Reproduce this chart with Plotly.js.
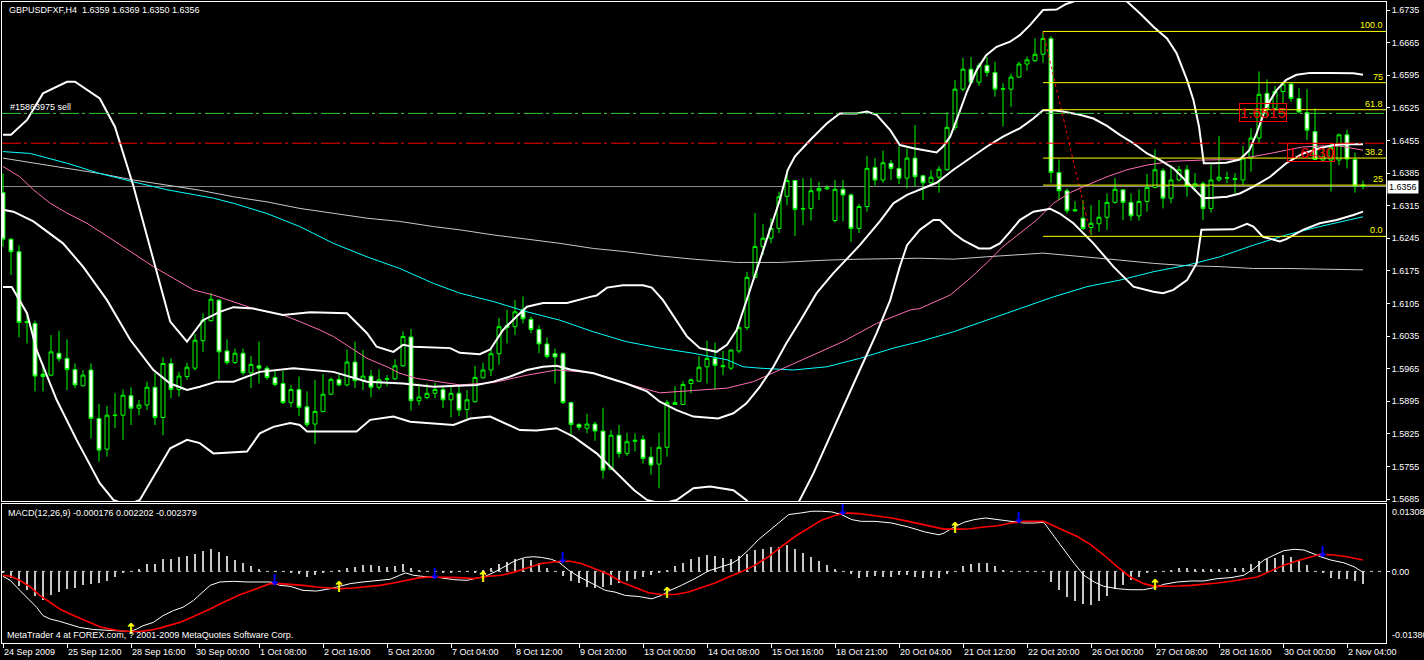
<!DOCTYPE html>
<html><head><meta charset="utf-8">
<script src="https://cdn.plot.ly/plotly-3.0.1.min.js"></script>
<style>html,body{margin:0;padding:0;background:#000;overflow:hidden}#chart{width:1424px;height:660px}</style>
</head><body><div id="chart"></div>
<script>
const symbol = 'GBPUSDFXF,H4';
const macdName = 'MACD(12,26,9)';
const copyright = 'MetaTrader 4 at FOREX.com, ? 2001-2009 MetaQuotes Software Corp.';

// H4 candles, one per bar (bar 0 = 24 Sep 2009)
const open = [1.6343,1.6243,1.6216,1.6064,1.6062,1.5953,1.5951,1.5998,1.5987,1.5963,
1.5928,1.5962,1.5858,1.5792,1.5864,1.5865,1.5907,1.5880,1.5887,1.5925,
1.5860,1.5976,1.5920,1.5948,1.5966,1.6025,1.6068,1.6112,1.6003,1.5978,
1.5998,1.5956,1.5971,1.5966,1.5946,1.5933,1.5892,1.5920,1.5883,1.5846,
1.5873,1.5910,1.5942,1.5930,1.5979,1.5939,1.5949,1.5925,1.5942,1.5943,
1.5971,1.6033,1.5896,1.5903,1.5912,1.5920,1.5898,1.5912,1.5877,1.5894,
1.5945,1.5962,1.5997,1.6057,1.6055,1.6091,1.6071,1.6049,1.6018,1.5997,
1.5997,1.5892,1.5845,1.5837,1.5846,1.5831,1.5749,1.5822,1.5783,1.5809,
1.5813,1.5775,1.5760,1.5796,1.5888,1.5888,1.5933,1.5938,1.5969,1.5987,
1.5969,1.5966,1.6003,1.6053,1.6161,1.6227,1.6245,1.6266,1.6335,1.6369,
1.6309,1.6309,1.6347,1.6351,1.6283,1.6350,1.6338,1.6266,1.6313,1.6397,
1.6370,1.6406,1.6395,1.6374,1.6417,1.6379,1.6364,1.6376,1.6392,1.6483,
1.6565,1.6608,1.6580,1.6616,1.6601,1.6565,1.6565,1.6591,1.6619,1.6626,
1.6640,1.6674,1.6386,1.6347,1.6306,1.6288,1.6268,1.6276,1.6290,1.6322,
1.6349,1.6322,1.6293,1.6324,1.6354,1.6390,1.6331,1.6370,1.6392,1.6356,
1.6362,1.6309,1.6370,1.6374,1.6371,1.6370,1.6417,1.6460,1.6556,1.6524,
1.6560,1.6576,1.6545,1.6515,1.6474,1.6413,1.6413,1.6413,1.6467,1.6414,
1.6359];
const high = [1.6384,1.6245,1.6230,1.6084,1.6068,1.5976,1.6037,1.6046,1.6028,1.5976,
1.5962,1.5976,1.5889,1.5885,1.5912,1.5920,1.5925,1.5898,1.5937,1.5955,
1.5989,1.5987,1.5958,1.5978,1.6039,1.6084,1.6127,1.6114,1.6028,1.6008,
1.6008,1.5992,1.6023,1.5971,1.5962,1.5960,1.5930,1.5948,1.5916,1.5941,
1.5953,1.5946,1.5953,1.6006,1.6023,1.6005,1.5962,1.5963,1.5951,1.5985,
1.6045,1.6050,1.5933,1.5933,1.5935,1.5927,1.5928,1.5930,1.5919,1.5971,
1.5978,1.6008,1.6074,1.6091,1.6112,1.6120,1.6077,1.6058,1.6032,1.6008,
1.6000,1.5894,1.5848,1.5868,1.5851,1.5881,1.5833,1.5844,1.5827,1.5826,
1.5822,1.5797,1.5827,1.5898,1.5927,1.5938,1.5944,1.5992,1.6025,1.6021,
1.6003,1.6005,1.6058,1.6173,1.6299,1.6275,1.6288,1.6345,1.6391,1.6370,
1.6374,1.6374,1.6366,1.6359,1.6370,1.6370,1.6341,1.6319,1.6422,1.6417,
1.6433,1.6413,1.6442,1.6438,1.6488,1.6381,1.6391,1.6400,1.6515,1.6585,
1.6632,1.6634,1.6622,1.6634,1.6624,1.6578,1.6598,1.6624,1.6635,1.6674,
1.6689,1.6679,1.6414,1.6352,1.6324,1.6327,1.6316,1.6327,1.6341,1.6374,
1.6350,1.6341,1.6350,1.6383,1.6436,1.6395,1.6402,1.6400,1.6402,1.6385,
1.6367,1.6402,1.6465,1.6388,1.6385,1.6443,1.6481,1.6603,1.6586,1.6572,
1.6579,1.6578,1.6567,1.6565,1.6524,1.6442,1.6449,1.6470,1.6478,1.6429,
1.6369];
const low = [1.6227,1.6166,1.6032,1.6019,1.5916,1.5916,1.5949,1.5980,1.5919,1.5923,
1.5927,1.5815,1.5765,1.5776,1.5837,1.5812,1.5844,1.5865,1.5876,1.5844,
1.5822,1.5901,1.5905,1.5941,1.5961,1.6001,1.6066,1.5942,1.5973,1.5975,
1.5951,1.5923,1.5933,1.5941,1.5927,1.5889,1.5882,1.5863,1.5840,1.5803,
1.5871,1.5908,1.5927,1.5927,1.5923,1.5919,1.5903,1.5920,1.5927,1.5941,
1.5969,1.5875,1.5886,1.5899,1.5901,1.5880,1.5860,1.5863,1.5858,1.5892,
1.5944,1.5949,1.5973,1.6019,1.6037,1.6062,1.6041,1.5998,1.5987,1.5933,
1.5889,1.5822,1.5833,1.5826,1.5810,1.5729,1.5747,1.5774,1.5777,1.5787,
1.5761,1.5737,1.5708,1.5776,1.5887,1.5887,1.5912,1.5937,1.5933,1.5920,
1.5951,1.5962,1.5998,1.6048,1.6159,1.6209,1.6234,1.6256,1.6316,1.6250,
1.6273,1.6283,1.6327,1.6349,1.6279,1.6281,1.6237,1.6256,1.6302,1.6358,
1.6364,1.6370,1.6361,1.6352,1.6357,1.6327,1.6356,1.6343,1.6390,1.6477,
1.6560,1.6578,1.6572,1.6592,1.6549,1.6485,1.6527,1.6589,1.6605,1.6624,
1.6622,1.6364,1.6327,1.6298,1.6302,1.6263,1.6252,1.6259,1.6263,1.6319,
1.6284,1.6283,1.6283,1.6302,1.6352,1.6309,1.6320,1.6367,1.6334,1.6345,
1.6284,1.6300,1.6367,1.6363,1.6341,1.6359,1.6388,1.6449,1.6506,1.6520,
1.6535,1.6538,1.6513,1.6456,1.6413,1.6409,1.6345,1.6402,1.6395,1.6343,
1.6350];
const close = [1.6243,1.6216,1.6064,1.6066,1.5949,1.5948,1.6001,1.5986,1.5963,1.5930,
1.5951,1.5858,1.5790,1.5865,1.5865,1.5908,1.5880,1.5887,1.5925,1.5860,
1.5976,1.5920,1.5949,1.5968,1.6026,1.6069,1.6114,1.6001,1.5978,1.5998,
1.5956,1.5974,1.5966,1.5946,1.5931,1.5892,1.5920,1.5882,1.5845,1.5873,
1.5910,1.5942,1.5930,1.5979,1.5939,1.5949,1.5925,1.5941,1.5943,1.5971,
1.6034,1.5896,1.5904,1.5912,1.5920,1.5898,1.5912,1.5876,1.5898,1.5946,
1.5962,1.5997,1.6055,1.6054,1.6087,1.6072,1.6049,1.6018,1.5991,1.5990,
1.5892,1.5845,1.5839,1.5846,1.5831,1.5747,1.5822,1.5783,1.5808,1.5811,
1.5772,1.5758,1.5796,1.5892,1.5892,1.5931,1.5941,1.5968,1.5987,1.5972,
1.5971,1.6005,1.6053,1.6161,1.6227,1.6245,1.6266,1.6334,1.6369,1.6307,
1.6308,1.6347,1.6352,1.6353,1.6350,1.6338,1.6266,1.6313,1.6395,1.6370,
1.6407,1.6395,1.6374,1.6417,1.6377,1.6364,1.6376,1.6393,1.6483,1.6565,
1.6608,1.6580,1.6616,1.6601,1.6565,1.6566,1.6591,1.6619,1.6628,1.6640,
1.6674,1.6386,1.6347,1.6304,1.6304,1.6266,1.6277,1.6290,1.6322,1.6350,
1.6322,1.6293,1.6324,1.6354,1.6392,1.6331,1.6370,1.6392,1.6356,1.6362,
1.6309,1.6370,1.6376,1.6375,1.6373,1.6417,1.6460,1.6554,1.6524,1.6560,
1.6576,1.6545,1.6516,1.6477,1.6414,1.6420,1.6440,1.6467,1.6415,1.6357,
1.6356];

// time axis labels
const tickBars = [0,8,16,24,32,40,48,56,64,72,80,88,96,104,112,120,128,136,144,152,160,168];
const timeLabels = ['24 Sep 2009','25 Sep 12:00','28 Sep 16:00','30 Sep 00:00','1 Oct 08:00','2 Oct 16:00','5 Oct 20:00','7 Oct 04:00','8 Oct 12:00','9 Oct 20:00','13 Oct 00:00','14 Oct 08:00','15 Oct 16:00','18 Oct 21:00','20 Oct 04:00','21 Oct 12:00','22 Oct 20:00','26 Oct 00:00','27 Oct 08:00','28 Oct 16:00','30 Oct 00:00','2 Nov 04:00'];
const priceTicks = [1.6735,1.6665,1.6595,1.6525,1.6455,1.6385,1.6315,1.6245,1.6175,1.6105,1.6035,1.5965,1.5895,1.5825,1.5755,1.5685];

// Bollinger bands (read at sampled bars)
const bbUpperX = [0,1,3,5,8,9,12.1,14,16.3,18.8,20.9,23,25,27.1,28.8,31.3,35,38.4,43,45.5,46.7,48.8,50,51.3,55.9,57.1,59.6,60.9,62.5,64.2,65.5,67.5,70.5,73.4,74.2,75.5,77.5,80,81.1,82.5,83.8,85.5,87.1,89.2,90.5,91.7,92.9,93.8,95.5,97.1,98.1,99,100.9,103,104.6,106.7,108,109.2,110.9,112.1,113.8,115,116.7,117.5,118.4,119.2,120.5,121.7,122.9,124.2,125.9,127.1,128.4,130,131.7,132.9,133.8,135.5,137.5,139.5,140.5,142.1,143.8,145.5,146.7,148,148.8,149.5,149.9,150.1,151.3,152.9,154.6,155.8,156.7,157.9,159.2,160.4,161.7,163.4,165.9,168.8,170];
const bbUpperY = [1.6467,1.6467,1.6499,1.6556,1.6581,1.6581,1.6545,1.6484,1.6357,1.6198,1.6066,1.6023,1.6069,1.6087,1.6097,1.6094,1.6080,1.6086,1.6084,1.6041,1.6012,1.6001,1.6016,1.6012,1.6009,1.5999,1.5996,1.6006,1.6048,1.6077,1.6098,1.6106,1.6106,1.6119,1.6122,1.6139,1.6144,1.6144,1.6139,1.6112,1.6077,1.6034,1.6009,1.6001,1.6016,1.6048,1.6109,1.6155,1.6241,1.6327,1.6392,1.6421,1.6456,1.6492,1.6513,1.6513,1.6517,1.6510,1.6477,1.6445,1.6438,1.6434,1.6429,1.6442,1.6463,1.6499,1.6560,1.6606,1.6638,1.6656,1.6667,1.6681,1.6703,1.6735,1.6736,1.6748,1.6753,1.6775,1.6780,1.6765,1.6753,1.6728,1.6699,1.6674,1.6642,1.6585,1.6542,1.6485,1.6427,1.6406,1.6406,1.6407,1.6414,1.6434,1.6470,1.6527,1.6563,1.6585,1.6596,1.6600,1.6600,1.6599,1.6596];
const bbMidX = [0,1.3,3.8,7.5,10,13,15.9,18.8,20.9,23,24.6,26.7,28.8,32.1,36.3,41.3,45.5,50,53.8,57.1,59.2,61.3,63.4,65.5,67.5,69.2,70.9,73.8,75.9,77.9,80.5,82.1,84.2,86.3,89.4,91.3,92.9,94.6,96.3,97.9,99.6,101.7,103.8,105.5,107.1,109.6,111.3,113,114.6,116.7,118.8,120.9,123,125,127.1,128.8,130,131.3,132.5,134.6,136.3,138,139.6,141.3,143,144.6,146.3,148,149.2,150,151.3,153,154.6,156.3,158.4,160.4,162.5,164.6,166.3,168,170];
const bbMidY = [1.6306,1.6302,1.6281,1.6234,1.6184,1.6112,1.6027,1.5962,1.5933,1.5919,1.5926,1.5937,1.5937,1.5958,1.5966,1.5958,1.5937,1.5933,1.5926,1.5928,1.5930,1.5937,1.5948,1.5962,1.5969,1.5971,1.5963,1.5955,1.5944,1.5933,1.5916,1.5894,1.5876,1.5862,1.5858,1.5869,1.5890,1.5926,1.5969,1.6019,1.6066,1.6127,1.6170,1.6202,1.6230,1.6281,1.6320,1.6338,1.6349,1.6364,1.6392,1.6417,1.6442,1.6463,1.6481,1.6502,1.6520,1.6520,1.6517,1.6510,1.6502,1.6486,1.6467,1.6449,1.6427,1.6413,1.6395,1.6366,1.6345,1.6331,1.6332,1.6334,1.6341,1.6356,1.6377,1.6406,1.6427,1.6438,1.6445,1.6447,1.6447];
const bbLowX = [0,1.1,3,4.2,6.7,9.2,12.1,13.8,15.5,17.1,20.9,23,24.6,26.3,30.5,32.1,33.8,35.9,37.1,38,39.6,44.2,45.9,48.8,50.9,53.8,56.3,58.4,60.9,64.6,66.7,69.2,71.3,74.2,76.7,78.9,80.5,82.3,84.2,86.3,88.4,91.3,92.9,94.5,96.5,98.5,99.6,101.3,103,105,107.1,109.2,110.9,112.1,113,114.6,116.3,117.1,118.8,120,122,123.4,124.6,125.9,127.1,128.8,130.9,132.1,133.8,136.3,138.8,141.3,143.8,145,146.3,148,149.2,149.8,151.3,153.8,155.5,156.3,157.5,159.6,160.4,162.5,164.6,166.7,168.8,170];
const bbLowY = [1.6140,1.6140,1.6084,1.6005,1.5898,1.5812,1.5719,1.5683,1.5672,1.5683,1.5794,1.5812,1.5805,1.5783,1.5787,1.5826,1.5840,1.5848,1.5844,1.5830,1.5830,1.5830,1.5855,1.5862,1.5851,1.5848,1.5844,1.5858,1.5862,1.5833,1.5832,1.5837,1.5819,1.5783,1.5740,1.5704,1.5683,1.5675,1.5683,1.5708,1.5712,1.5704,1.5683,1.5650,1.5635,1.5655,1.5683,1.5740,1.5805,1.5883,1.5962,1.6041,1.6112,1.6184,1.6230,1.6263,1.6284,1.6284,1.6256,1.6241,1.6223,1.6223,1.6234,1.6259,1.6284,1.6302,1.6308,1.6298,1.6277,1.6234,1.6184,1.6141,1.6130,1.6127,1.6134,1.6155,1.6191,1.6263,1.6263,1.6264,1.6276,1.6270,1.6248,1.6238,1.6243,1.6263,1.6277,1.6284,1.6295,1.6302];

// moving averages (sampled)
const cyanX = [0,3.4,8,12.1,16.3,20.5,26.3,28.8,33,37.1,41.3,45.5,49.6,53.8,57.1,61.3,65.5,69.6,73.8,77.9,82.1,86.3,90.5,92.5,94.6,98.8,103,107.1,111.3,114.6,118.8,122.9,127.1,131.3,135.5,139.6,143.8,148,152.1,156.3,160.4,164.6,170];
const cyanY = [1.6431,1.6427,1.6406,1.6384,1.6366,1.6349,1.6331,1.6320,1.6298,1.6270,1.6234,1.6205,1.6180,1.6148,1.6127,1.6109,1.6087,1.6069,1.6044,1.6023,1.6009,1.5998,1.5984,1.5969,1.5966,1.5962,1.5969,1.5987,1.6009,1.6023,1.6044,1.6069,1.6094,1.6119,1.6141,1.6155,1.6173,1.6187,1.6205,1.6230,1.6252,1.6270,1.6291];
const pinkX = [0,2.1,3.8,5.9,8,10.5,13.4,16.3,18.8,21.3,23.8,26.3,28.8,31.3,33,35,37.1,39.6,41.3,43.8,45.5,48,49.6,51.7,53.8,57.1,61.3,65.5,69.2,73.8,77.9,82.1,86.3,90.5,93.8,97.1,100.9,105,109.2,113.4,114.6,118.4,120.9,122.9,125,127.1,129.2,131.3,133.4,135.5,138,140.5,143,146,150.1,154.2,156.3,158.4,160.4,162.5,164.6,167.1,170];
const pinkY = [1.6399,1.6377,1.6349,1.6320,1.6299,1.6277,1.6245,1.6213,1.6184,1.6159,1.6134,1.6123,1.6109,1.6094,1.6087,1.6080,1.6066,1.6048,1.6034,1.6005,1.5987,1.5969,1.5955,1.5944,1.5939,1.5930,1.5935,1.5951,1.5962,1.5956,1.5933,1.5913,1.5918,1.5923,1.5937,1.5962,1.5991,1.6023,1.6062,1.6091,1.6094,1.6123,1.6159,1.6191,1.6227,1.6256,1.6284,1.6320,1.6343,1.6359,1.6377,1.6392,1.6402,1.6410,1.6413,1.6414,1.6420,1.6427,1.6434,1.6441,1.6443,1.6443,1.6434];
const greyX = [0,3.8,8,12.1,16.3,20.5,24.6,28.8,33,37.1,41.3,45.5,49.6,53.8,57.1,61.3,65.5,69.6,73.8,77.9,82.1,86.3,91.7,97.1,103,107.1,114.6,118.8,122.9,127.1,130,131.3,135.5,139.6,143.8,148,152.1,156.3,160.4,164.6,170];
const greyY = [1.6417,1.6406,1.6395,1.6384,1.6370,1.6359,1.6348,1.6334,1.6323,1.6309,1.6298,1.6288,1.6281,1.6270,1.6263,1.6252,1.6243,1.6234,1.6223,1.6216,1.6207,1.6200,1.6193,1.6193,1.6198,1.6200,1.6202,1.6200,1.6205,1.6209,1.6213,1.6211,1.6205,1.6198,1.6191,1.6186,1.6184,1.6180,1.6180,1.6179,1.6177];

// trade / objects
const orderPrices = [1.6513, 1.6449];
const orderLabel = '#15863975 sell';
const fibStartBar = 130, fibEndBar = 136;
const fibHigh = 1.6689, fibLow = 1.6249;
const fibLevels = [0, 0.25, 0.382, 0.618, 0.75, 1.0];
const fibLabels = ['0.0','25','38.2','61.8','75','100.0'];
const tagBars = [157.5, 163.5];
const tagPrices = [1.6514, 1.6430];
const tagTexts = ['1.6515', '1.6430'];

// MACD panel
const macdX = [0,0.9,2.1,3.4,4.2,5,5.9,7.1,8.4,9.6,11.3,13,14.6,15.9,16.7,17.5,18.8,20,21.3,22.5,23.8,24.6,25.9,27.1,28.8,30.5,32.1,33.4,34.6,35.9,37.5,39.2,40.9,42.1,43.4,45,46.7,48.4,49.6,50.3,51.3,53,54.6,56.3,58,59,60.3,61.5,62.8,64,65.3,66.3,67.3,68.6,69.6,70.7,71.9,73.2,74.4,75.3,76.5,77.8,79.4,80.3,81.1,82.3,83.2,84.8,86.5,88.2,89.8,91.1,91.9,93.2,94.4,95.7,96.9,98.2,99.8,101.1,102.3,103.6,104.8,106.1,107.3,109,111.1,113.2,115.3,117,117.6,118.9,120.1,121.4,122.8,124.3,126,127.6,128.9,130.1,131.4,132.6,133.9,135.1,136.4,137.6,139.3,140.9,142.6,143.9,145.1,146.8,148.5,150.1,151.8,153.5,155.1,156.4,157.6,158.9,160.1,161.4,162.6,163.9,164.7,166,167.6,168.9,170];
const macdY = [-0.00094,-0.00172,-0.00366,-0.00561,-0.00691,-0.00853,-0.00918,-0.00964,-0.01029,-0.01081,-0.01120,-0.01133,-0.01146,-0.01159,-0.01113,-0.01048,-0.00983,-0.00853,-0.00756,-0.00691,-0.00561,-0.00444,-0.00269,-0.00204,-0.00191,-0.00204,-0.00204,-0.00204,-0.00269,-0.00288,-0.00366,-0.00379,-0.00334,-0.00282,-0.00236,-0.00204,-0.00172,-0.00152,-0.00074,-0.00029,-0.00074,-0.00107,-0.00120,-0.00159,-0.00172,-0.00139,-0.00094,-0.00009,0.00101,0.00205,0.00270,0.00283,0.00270,0.00231,0.00166,0.00023,-0.00094,-0.00204,-0.00301,-0.00366,-0.00399,-0.00464,-0.00483,-0.00509,-0.00529,-0.00464,-0.00379,-0.00269,-0.00139,0.00010,0.00088,0.00153,0.00231,0.00413,0.00608,0.00771,0.00933,0.01095,0.01128,0.01160,0.01160,0.01147,0.01095,0.00998,0.00965,0.00965,0.00933,0.00855,0.00758,0.00706,0.00738,0.00855,0.00946,0.00998,0.01030,0.00998,0.00965,0.00933,0.00933,0.00946,0.00673,0.00413,0.00153,-0.00074,-0.00204,-0.00288,-0.00334,-0.00353,-0.00353,-0.00314,-0.00249,-0.00204,-0.00185,-0.00185,-0.00139,-0.00120,-0.00074,0.00056,0.00218,0.00316,0.00400,0.00426,0.00413,0.00335,0.00283,0.00218,0.00166,0.00088,-0.000176];
const signalX = [0,0.9,2.1,3.4,4.6,5.9,7.1,8.4,9.6,10.9,12.1,13.4,14.6,15.9,17.1,18.4,19.6,20.9,22.1,23.4,24.6,25.9,27.1,28.4,29.6,30.9,32.1,33.4,34.6,35.9,37.5,39.2,40.9,42.1,43.8,45.5,47.1,48.8,50.5,52.1,53.8,55.5,57.1,58.8,60.7,62.3,64,65.7,67.3,69,70.7,72.3,74,75.7,77.3,79,80.7,82.3,84,85.7,87.3,89,90.7,92.3,94,95.7,97.3,99,100.7,102.3,104,105.3,106.9,109,111.1,113.2,115.3,117.6,119.3,120.9,122.6,124.3,126,127.6,130.1,131.4,132.6,134.3,136,137.6,139.3,140.9,142.6,143.9,145.1,146.8,148.5,150.1,151.8,153.5,155.1,156.8,158.5,160.1,161.8,163.5,164.7,166.4,168,170];
const signalY = [-0.00074,-0.00094,-0.00172,-0.00301,-0.00464,-0.00594,-0.00724,-0.00821,-0.00899,-0.00984,-0.01068,-0.01113,-0.01146,-0.01159,-0.01159,-0.01133,-0.01094,-0.01036,-0.00984,-0.00899,-0.00821,-0.00724,-0.00627,-0.00529,-0.00451,-0.00379,-0.00314,-0.00236,-0.00236,-0.00249,-0.00269,-0.00301,-0.00314,-0.00334,-0.00321,-0.00301,-0.00269,-0.00223,-0.00172,-0.00120,-0.00107,-0.00107,-0.00120,-0.00139,-0.00094,-0.00074,-0.00009,0.00075,0.00153,0.00186,0.00199,0.00153,0.00056,-0.00055,-0.00204,-0.00314,-0.00412,-0.00444,-0.00444,-0.00399,-0.00314,-0.00223,-0.00107,-0.00009,0.00121,0.00283,0.00478,0.00673,0.00835,0.00985,0.01076,0.01128,0.01115,0.01076,0.01030,0.00965,0.00900,0.00816,0.00816,0.00823,0.00855,0.00881,0.00933,0.00965,0.00965,0.00881,0.00790,0.00673,0.00511,0.00316,0.00088,-0.00107,-0.00236,-0.00288,-0.00288,-0.00282,-0.00269,-0.00249,-0.00223,-0.00191,-0.00152,-0.00107,0.00010,0.00121,0.00205,0.00270,0.00329,0.00316,0.00283,0.002202];
const histY = [-0.00026,-0.00124,-0.00273,-0.00364,-0.00468,-0.00546,-0.00449,-0.00397,-0.00338,-0.00319,
-0.00254,-0.00234,-0.00221,-0.00176,-0.00104,-0.00026,0.00013,0.00052,0.00137,0.00137,
0.00234,0.00247,0.00286,0.00299,0.00332,0.00397,0.00429,0.00377,0.00299,0.00215,
0.00169,0.00104,0.00039,0.00013,-0.00007,-0.00013,-0.00026,-0.00059,-0.00104,-0.00078,
-0.00026,0,0.00026,0.00072,0.00085,0.00117,0.00117,0.00104,0.00085,0.00104,
0.00137,0.00072,0.00026,0,-0.00013,-0.00026,-0.00026,-0.00013,-0.00007,-0.00030,
0.00026,0.00072,0.00137,0.00182,0.00234,0.00247,0.00215,0.00156,0.00072,0,
-0.00091,-0.00189,-0.00221,-0.00299,-0.00319,-0.00299,-0.00254,-0.00221,-0.00189,-0.00156,
-0.00104,-0.00078,-0.00039,0.00026,0.00104,0.00169,0.00234,0.00286,0.00312,0.00299,
0.00267,0.00247,0.00299,0.00345,0.00416,0.00429,0.00462,0.00462,0.00507,0.00429,
0.00364,0.00286,0.00202,0.00117,0.00039,0,-0.00059,-0.00124,-0.00104,-0.00091,
-0.00104,-0.00104,-0.00078,-0.00078,-0.00104,-0.00124,-0.00104,-0.00124,-0.00059,0.00007,
0.00104,0.00137,0.00156,0.00156,0.00104,0.00026,0.00007,0,0.00007,0,
0,-0.00208,-0.00364,-0.00494,-0.00579,-0.00624,-0.00644,-0.00579,-0.00481,-0.00338,
-0.00254,-0.00169,-0.00104,-0.00039,-0.00013,0.00007,0.00026,0.00072,0.00072,0.00039,
0.00039,0.00039,0.00039,0.00039,0.00072,0.00072,0.00137,0.00202,0.00234,0.00267,
0.00312,0.00286,0.00202,0.00117,0.00013,-0.00039,-0.00124,-0.00143,-0.00156,-0.00189,
-0.002379];
const upArrowBars = [16,42,60,83,119,144];
const upArrowVals = [-0.01142,-0.00324,-0.00129,-0.00441,0.00822,-0.00283];
const downArrowBars = [34,54,70,105,127,165];
const downArrowVals = [-0.00185,-0.00068,0.00238,0.01154,0.01008,0.00359];
const macdMax = 0.013089, macdMin = -0.013806;

// ---------- drawing ----------
const last = close.length - 1;
const barIndex = close.map((_, i) => i);
const fmt4 = v => v.toFixed(4);
const fmt6 = v => v.toFixed(6);
const xRange = [-0.125, 172.875];
const priceRange = [1.56807, 1.67522];
const FONT = 'Liberation Sans, Arial, sans-serif';

function lineTrace(x, y, color, width, xa, ya) {
  return {type:'scatter', mode:'lines', x, y, xaxis:xa, yaxis:ya,
    line:{color, width, shape:'linear'}, hoverinfo:'skip', showlegend:false};
}

const traces = [
  {type:'candlestick', x:barIndex, open, high, low, close, xaxis:'x2', yaxis:'y',
   increasing:{line:{color:'#00FF00', width:1}, fillcolor:'#000000'},
   decreasing:{line:{color:'#00FF00', width:1}, fillcolor:'#FFFFFF'},
   whiskerwidth:0, hoverinfo:'skip', showlegend:false},
  lineTrace(greyX, greyY, '#C8C8C8', 1, 'x2', 'y'),
  lineTrace(cyanX, cyanY, '#00FFFF', 1, 'x2', 'y'),
  lineTrace(pinkX, pinkY, '#FF6EB4', 1, 'x2', 'y'),
  lineTrace(bbUpperX, bbUpperY, '#FFFFFF', 2, 'x2', 'y'),
  lineTrace(bbMidX, bbMidY, '#FFFFFF', 2, 'x2', 'y'),
  lineTrace(bbLowX, bbLowY, '#FFFFFF', 2, 'x2', 'y'),
  {type:'bar', x:barIndex, y:histY, xaxis:'x', yaxis:'y2', width:0.15,
   marker:{color:'#C8C8C8', line:{width:0}}, hoverinfo:'skip', showlegend:false},
  lineTrace(macdX, macdY, '#FFFFFF', 1, 'x', 'y2'),
  lineTrace(signalX, signalY, '#FF0000', 1.6, 'x', 'y2'),
  {type:'scatter', mode:'text', x:upArrowBars, y:upArrowVals, xaxis:'x', yaxis:'y2',
   text:upArrowBars.map(() => '\u2191'), textposition:'middle center',
   textfont:{family:'DejaVu Sans', size:15, color:'#FFFF00', weight:'bold'}, hoverinfo:'skip', showlegend:false},
  {type:'scatter', mode:'text', x:downArrowBars, y:downArrowVals, xaxis:'x', yaxis:'y2',
   text:downArrowBars.map(() => '\u2193'), textposition:'middle center',
   textfont:{family:'DejaVu Sans', size:15, color:'#0000FF', weight:'bold'}, hoverinfo:'skip', showlegend:false}
];

const orderDash = '19px,3px,3px,4px';
const shapes = [
  {type:'line', xref:'paper', x0:0, x1:1, yref:'y', y0:close[last], y1:close[last], line:{color:'#8C8C8C', width:1}, layer:'below'},
  {type:'line', xref:'paper', x0:0, x1:1, yref:'y', y0:orderPrices[0], y1:orderPrices[0], line:{color:'#32CD32', width:1, dash:orderDash}, layer:'above'},
  {type:'line', xref:'paper', x0:0, x1:1, yref:'y', y0:orderPrices[1], y1:orderPrices[1], line:{color:'#FF0000', width:1, dash:orderDash}, layer:'above'},
  {type:'line', xref:'x2', x0:fibStartBar, x1:fibEndBar, yref:'y', y0:fibHigh, y1:fibLow, line:{color:'#FF0000', width:1, dash:'dot'}, layer:'above'},
  {type:'line', xref:'paper', x0:0, x1:1, yref:'y2', y0:0, y1:0, line:{color:'#C8C8C8', width:1, dash:'3px,5px'}, layer:'below'}
];
fibLevels.forEach(lv => {
  const p = fibLow + lv * (fibHigh - fibLow);
  shapes.push({type:'line', xref:'x2', x0:fibStartBar, x1:xRange[1], yref:'y', y0:p, y1:p, line:{color:'#FFFF00', width:1}, layer:'above'});
});

const annotations = [
  {xref:'paper', x:0.0036, xanchor:'left', yref:'paper', y:1, yanchor:'top', yshift:-1, showarrow:false,
   text:symbol + '\u00a0\u00a0' + [open[last], high[last], low[last], close[last]].map(fmt4).join(' '),
   font:{family:FONT, size:9, color:'#FFFFFF'}},
  {xref:'paper', x:0.0044, xanchor:'left', yref:'y', y:orderPrices[0], yanchor:'bottom', yshift:-1, showarrow:false,
   text:orderLabel, font:{family:FONT, size:9, color:'#FFFFFF'}},
  {xref:'paper', x:1, xanchor:'left', xshift:1, yref:'y', y:close[last], yanchor:'middle', showarrow:false,
   text:fmt4(close[last]), bgcolor:'#FFFFFF', borderpad:1, font:{family:FONT, size:9, color:'#000000'}},
  {xref:'paper', x:0.003, xanchor:'left', yref:'y2 domain', y:1, yanchor:'top', yshift:-2, showarrow:false,
   text:macdName + ' ' + [macdY[macdY.length-1], signalY[signalY.length-1], histY[last]].map(fmt6).join(' '),
   font:{family:FONT, size:9, color:'#FFFFFF'}},
  {xref:'paper', x:0.002, xanchor:'left', yref:'y2 domain', y:0, yanchor:'bottom', yshift:1, showarrow:false,
   text:copyright, font:{family:FONT, size:9, color:'#FFFFFF'}},
  {xref:'paper', x:1, xanchor:'left', xshift:4, yref:'y2 domain', y:1, yanchor:'top', yshift:-1, showarrow:false,
   text:fmt6(macdMax), font:{family:FONT, size:9, color:'#FFFFFF'}},
  {xref:'paper', x:1, xanchor:'left', xshift:4, yref:'y2 domain', y:0, yanchor:'bottom', yshift:1, showarrow:false,
   text:fmt6(macdMin), font:{family:FONT, size:9, color:'#FFFFFF'}}
];
fibLevels.forEach((lv, i) => {
  annotations.push({xref:'paper', x:1, xanchor:'right', xshift:-1, yref:'y', y:fibLow + lv * (fibHigh - fibLow),
    yanchor:'bottom', yshift:-1, showarrow:false, text:fibLabels[i], font:{family:FONT, size:9, color:'#FFFF00'}});
});
tagBars.forEach((b, i) => {
  annotations.push({xref:'x2', x:b, yref:'y', y:tagPrices[i], xanchor:'center', yanchor:'middle', showarrow:false,
    text:tagTexts[i], bordercolor:'#FF0000', borderwidth:1, borderpad:0,
    font:{family:FONT, size:15, color:'#FF0000'}});
});

const axisCommon = {showgrid:false, zeroline:false, showline:true, linecolor:'#FFFFFF', linewidth:1, mirror:true, fixedrange:true};
const layout = {
  width:1424, height:660,
  margin:{l:2, r:38, t:2, b:17, pad:0},
  paper_bgcolor:'#000000', plot_bgcolor:'#000000',
  font:{family:FONT, size:9, color:'#FFFFFF'},
  showlegend:false, hovermode:false, dragmode:false, bargap:0,
  xaxis:Object.assign({}, axisCommon, {domain:[0,1], anchor:'y2', range:xRange,
    ticks:'outside', ticklen:4, tickcolor:'#FFFFFF', tickvals:tickBars, ticktext:timeLabels,
    ticklabelposition:'outside right', tickfont:{family:FONT, size:9, color:'#FFFFFF'},
    rangeslider:{visible:false}}),
  xaxis2:Object.assign({}, axisCommon, {domain:[0,1], anchor:'y', range:xRange,
    showticklabels:false, ticks:'', rangeslider:{visible:false}}),
  yaxis:Object.assign({}, axisCommon, {domain:[0.2215,1], anchor:'x2', side:'right', range:priceRange,
    ticks:'outside', ticklen:3, tickcolor:'#FFFFFF', tickvals:priceTicks, ticktext:priceTicks.map(fmt4),
    tickfont:{family:FONT, size:9, color:'#FFFFFF'}}),
  yaxis2:Object.assign({}, axisCommon, {domain:[0,0.2176], anchor:'x', side:'right', range:[macdMin, macdMax],
    ticks:'outside', ticklen:3, tickcolor:'#FFFFFF', tickvals:[0], ticktext:['0.00'],
    tickfont:{family:FONT, size:9, color:'#FFFFFF'}}),
  shapes, annotations
};

Plotly.newPlot('chart', traces, layout, {staticPlot:true, displayModeBar:false});
</script>
</body></html>
